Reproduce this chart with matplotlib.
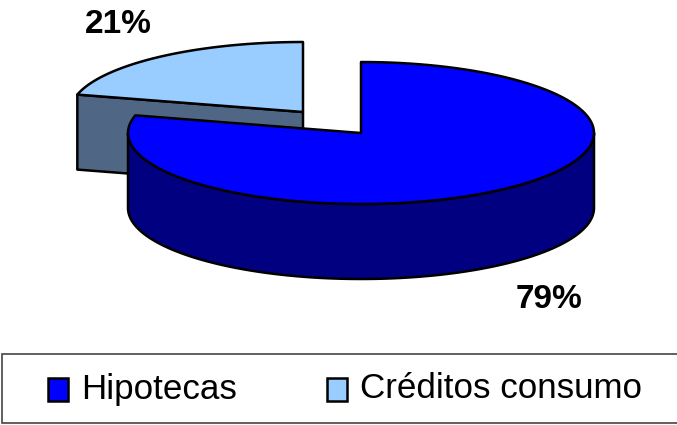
import numpy as np
import matplotlib
matplotlib.use("Agg")
import matplotlib.pyplot as plt
from matplotlib.patches import Polygon, Rectangle

labels = ["Hipotecas", "Créditos consumo"]
values = [79, 21]
top_colors = ["#0000ff", "#99ccff"]
side_colors = ["#000080", "#4f6785"]

plt.rcParams["font.family"] = ["Liberation Sans", "DejaVu Sans"]

fig = plt.figure(figsize=(6.77, 4.25), dpi=100)
ax = fig.add_axes([0, 0, 1, 1])
ax.set_xlim(0, 677)
ax.set_ylim(425, 0)
ax.axis("off")

RX = 233
DEPTH = 75


def arc(cx, cy, ry, a0, a1, n=120):
    # angles clockwise from 12 o'clock, y axis points down
    t = np.linspace(a0, a1, n)
    return np.column_stack([cx + RX * np.sin(t), cy - ry * np.cos(t)])


def add(pts, color, z):
    ax.add_patch(Polygon(pts, closed=True, fc=color, ec="black", lw=1.8,
                         joinstyle="round", zorder=z))


big_angle = 2 * np.pi * values[0] / sum(values)

# small slice, pulled out to the upper left
cx, cy, ry = 303, 112, 70
edge = arc(cx, cy, ry, big_angle, big_angle, 1)[0]
add([edge, (cx, cy), (cx, cy + DEPTH), (edge[0], edge[1] + DEPTH)], side_colors[1], 1)
add(np.vstack([[(cx, cy)], arc(cx, cy, ry, big_angle, 2 * np.pi)]), top_colors[1], 2)

# big slice
cx, cy, ry = 361, 133, 71
front = arc(cx, cy, ry, np.pi / 2, 3 * np.pi / 2)
add(np.vstack([front, (front + [0, DEPTH])[::-1]]), side_colors[0], 3)
add(np.vstack([[(cx, cy)], arc(cx, cy, ry, 0, big_angle)]), top_colors[0], 4)

# percent labels
pct_pos = [(549, 299), (118, 24)]
for v, (x, y) in zip(values, pct_pos):
    ax.text(x, y, f"{v}%", ha="center", va="center", fontsize=24, fontweight="bold", zorder=5)

# legend
ax.add_patch(Rectangle((2, 354), 690, 69, fc="white", ec="#444444", lw=1.2, zorder=1))
swatch_x = [48, 327]
text_x = [81, 360]
for lab, col, sx, tx in zip(labels, top_colors, swatch_x, text_x):
    ax.add_patch(Rectangle((sx, 378), 20, 23, fc=col, ec="black", lw=1.8, zorder=2))
    ax.text(tx, 389, lab, ha="left", va="center", fontsize=25.2, zorder=2)

fig.savefig("out.png", dpi=100)
